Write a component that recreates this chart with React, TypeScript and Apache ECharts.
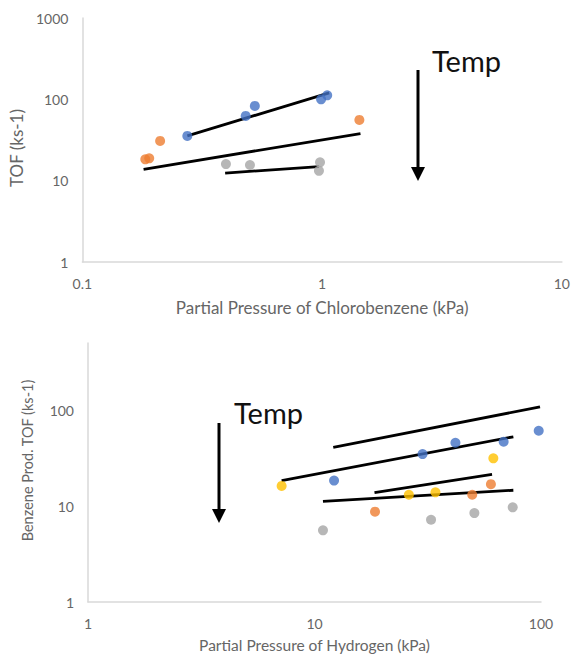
import React, { useEffect, useRef } from "react";
import * as echarts from "echarts";

// ---- Top chart: TOF vs partial pressure of chlorobenzene ----
const topBlue: [number, number][] = [[0.274, 35.5], [0.48, 62.5], [0.524, 83], [0.99, 100], [1.05, 112]];
const topOrange: [number, number][] = [[0.183, 18.3], [0.19, 18.8], [0.211, 30.8], [1.43, 55.8]];
const topGray: [number, number][] = [[0.397, 16.0], [0.5, 15.6], [0.98, 16.8], [0.97, 13.2]];
const topFitBlue: [number, number][] = [[0.274, 35.5], [1.07, 120]];
const topFitOrange: [number, number][] = [[0.18, 13.8], [1.445, 37.9]];
const topFitGray: [number, number][] = [[0.394, 12.4], [0.97, 14.9]];

// ---- Bottom chart: benzene prod. TOF vs partial pressure of hydrogen ----
const botBlue: [number, number][] = [[12.2, 18.4], [30.0, 34.8], [41.9, 45.7], [68.4, 46.8], [97.7, 60.9]];
const botYellow: [number, number][] = [[7.16, 16.2], [26.1, 13.1], [34.2, 13.9], [61.6, 31.4]];
const botOrange: [number, number][] = [[18.5, 8.73], [49.7, 13.1], [60.1, 16.9]];
const botGray: [number, number][] = [[10.9, 5.58], [32.7, 7.2], [50.8, 8.45], [75, 9.69]];
const botFit1: [number, number][] = [[12.1, 40.9], [99, 108]];
const botFit2: [number, number][] = [[7.16, 18.4], [75.5, 52.7]];
const botFit3: [number, number][] = [[18.4, 13.8], [60.8, 21.4]];
const botFit4: [number, number][] = [[10.9, 11.2], [75.5, 14.6]];

const topXTitle = "Partial Pressure of Chlorobenzene (kPa)";
const topYTitle = "TOF (ks-1)";
const botXTitle = "Partial Pressure of Hydrogen (kPa)";
const botYTitle = "Benzene Prod. TOF (ks-1)";
const tempLabel = "Temp";

const BLUE = "#4472C4";
const ORANGE = "#ED7D31";
const GRAY = "#A5A5A5";
const YELLOW = "#FFC000";
const FONT = "Lato, 'Open Sans', sans-serif";
const TXT = "#666666";

const fmt = (v: number) => {
  const lg = Math.log10(v);
  if (Math.abs(lg - Math.round(lg)) > 1e-6) return "";
  return String(Number(v.toPrecision(6)));
};

function logAxis(
  gridIndex: number,
  min: number,
  max: number,
  name: string,
  gap: number,
  nameSize: number,
  namePadding: number[] = [0, 0, 0, 0]
) {
  return {
    type: "log",
    logBase: 10,
    gridIndex,
    min,
    max,
    name,
    nameLocation: "middle",
    nameGap: gap,
    nameTextStyle: { color: TXT, fontSize: nameSize, fontFamily: FONT, padding: namePadding },
    axisLine: { show: true, lineStyle: { color: "#D9D9D9", width: 1.5 } },
    axisTick: { show: false },
    splitLine: { show: false },
    axisLabel: {
      color: TXT,
      fontSize: 14,
      fontFamily: FONT,
      margin: 14,
      formatter: fmt,
    },
  };
}

function scatter(data: [number, number][], color: string, idx: number) {
  return {
    type: "scatter",
    xAxisIndex: idx,
    yAxisIndex: idx,
    data,
    symbolSize: 10,
    itemStyle: { color },
    z: 3,
  };
}

function fit(data: [number, number][], idx: number) {
  return {
    type: "line",
    xAxisIndex: idx,
    yAxisIndex: idx,
    data,
    showSymbol: false,
    symbol: "none",
    lineStyle: { color: "#000", width: 2.8 },
    z: 2,
  };
}

export default function App() {
  const ref = useRef<HTMLDivElement>(null);
  useEffect(() => {
    if (!ref.current) return;
    const chart = echarts.init(ref.current, undefined, { renderer: "svg" });
    chart.setOption({
      animation: false,
      backgroundColor: "#fff",
      grid: [
        { left: 82, top: 18, width: 481, height: 244 },
        { left: 88, top: 343, width: 453, height: 259 },
      ],
      xAxis: [
        logAxis(0, 0.1, 10, topXTitle, 37, 17),
        logAxis(1, 1, 100, botXTitle, 35, 15.5),
      ],
      yAxis: [
        logAxis(0, 1, 1000, topYTitle, 52, 17, [0, 16, 0, 0]),
        logAxis(1, 1, 500, botYTitle, 53, 14.5, [0, 0, 0, 24]),
      ],
      series: [
        fit(topFitBlue, 0),
        fit(topFitOrange, 0),
        fit(topFitGray, 0),
        scatter(topBlue, BLUE, 0),
        scatter(topOrange, ORANGE, 0),
        scatter(topGray, GRAY, 0),
        fit(botFit1, 1),
        fit(botFit2, 1),
        fit(botFit3, 1),
        fit(botFit4, 1),
        scatter(botBlue, BLUE, 1),
        scatter(botYellow, YELLOW, 1),
        scatter(botOrange, ORANGE, 1),
        scatter(botGray, GRAY, 1),
      ],
      graphic: [
        { type: "line", shape: { x1: 418, y1: 70, x2: 418, y2: 170 }, style: { stroke: "#000", lineWidth: 3 } },
        { type: "polygon", shape: { points: [[411, 167], [425, 167], [418, 181]] }, style: { fill: "#000" } },
        { type: "text", left: 432, top: 46, style: { text: tempLabel, fontSize: 29, fontFamily: FONT, fill: "#111" } },
        { type: "line", shape: { x1: 219, y1: 423, x2: 219, y2: 511 }, style: { stroke: "#000", lineWidth: 3 } },
        { type: "polygon", shape: { points: [[212, 509], [226, 509], [219, 523]] }, style: { fill: "#000" } },
        { type: "text", left: 234, top: 398, style: { text: tempLabel, fontSize: 29, fontFamily: FONT, fill: "#111" } },
      ],
    });
    return () => chart.dispose();
  }, []);
  return (
    <div
      ref={ref}
      style={{ position: "absolute", left: 0, top: 0, width: 573, height: 654 }}
    />
  );
}
